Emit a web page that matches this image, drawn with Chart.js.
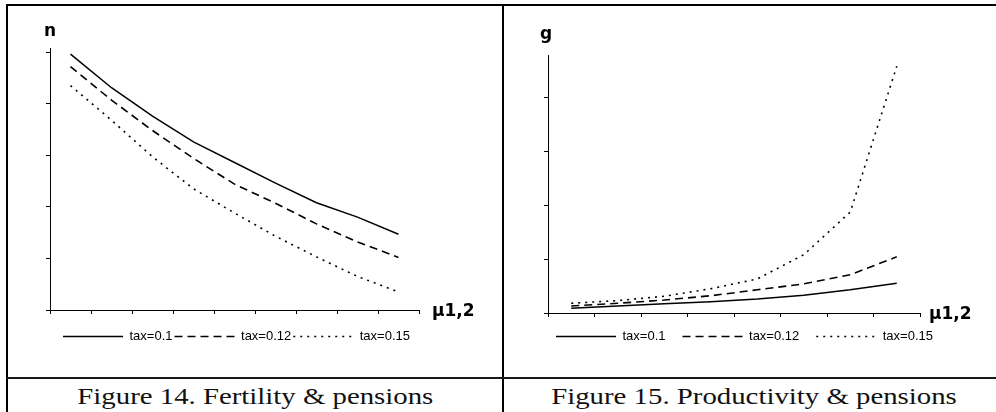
<!DOCTYPE html>
<html>
<head>
<meta charset="utf-8">
<script src="https://cdn.jsdelivr.net/npm/chart.js@4/dist/chart.umd.min.js"></script>
<style>
  html, body { margin: 0; padding: 0; background: #fff; overflow: hidden; }
  #page { position: relative; width: 996px; height: 412px; }
  .rule { position: absolute; background: #000; }
  .cap { position: absolute; top: 384px; font-family: 'Liberation Serif', 'Times New Roman', serif;
         font-size: 24px; line-height: 24px; white-space: nowrap; text-align: center; color: #111; }
  .cap span { display: inline-block; transform: scaleX(1.2); transform-origin: center; }
  .lbl { position: absolute; font: bold 17px 'DejaVu Sans', Verdana, sans-serif; line-height: 17px;
         color: #000; white-space: nowrap; }
  .plot { position: absolute; top: 0; height: 360px; }
</style>
</head>
<body>
<div id="page">
  <div class="rule" style="left:6px;top:4px;width:990px;height:2px"></div>
  <div class="rule" style="left:6px;top:4px;width:2px;height:408px"></div>
  <div class="rule" style="left:502px;top:4px;width:2px;height:408px"></div>
  <div class="rule" style="left:6px;top:377px;width:990px;height:2px;background:#1a1a1a"></div>

  <div class="plot" style="left:0;width:500px"><canvas id="fertility"></canvas></div>
  <div class="plot" style="left:500px;width:496px"><canvas id="productivity"></canvas></div>

  <div class="lbl" style="left:44px;top:22px">n</div>
  <div class="lbl" style="left:432px;top:302px">μ1,2</div>
  <div class="lbl" style="left:540px;top:25px">g</div>
  <div class="lbl" style="left:929px;top:305px">μ1,2</div>

  <div class="cap" style="left:8px;width:494px"><span>Figure 14. Fertility &amp; pensions</span></div>
  <div class="cap" style="left:508px;width:492px"><span>Figure 15. Productivity &amp; pensions</span></div>
</div>

<script>
// Pension contribution rates shown as the three series
const seriesLabels = ['tax=0.1', 'tax=0.12', 'tax=0.15'];

// Figure 14: fertility n against μ1,2 (nine steps)
const fertilitySteps = ['1', '2', '3', '4', '5', '6', '7', '8', '9'];
const fertilityTax10 = [4.96, 4.31, 3.76, 3.26, 2.86, 2.46, 2.08, 1.80, 1.47];
const fertilityTax12 = [4.72, 4.07, 3.48, 2.94, 2.44, 2.07, 1.67, 1.32, 1.02];
const fertilityTax15 = [4.35, 3.68, 2.97, 2.35, 1.88, 1.43, 1.03, 0.65, 0.35];

// Figure 15: productivity growth g against μ1,2 (eight steps)
const productivitySteps = ['1', '2', '3', '4', '5', '6', '7', '8'];
const productivityTax10 = [0.09, 0.13, 0.17, 0.21, 0.26, 0.33, 0.43, 0.55];
const productivityTax12 = [0.13, 0.18, 0.24, 0.32, 0.43, 0.54, 0.71, 1.04];
const productivityTax15 = [0.18, 0.23, 0.31, 0.45, 0.63, 1.08, 1.87, 4.57];

const lineStyles = [
  { borderDash: [], borderWidth: 1.5 },
  { borderDash: [8, 5], borderWidth: 1.6 },
  { borderDash: [2, 5], borderWidth: 1.6 }
];

function makeDatasets(valueSets) {
  return valueSets.map((values, i) => ({
    label: seriesLabels[i],
    data: values,
    borderColor: '#000',
    backgroundColor: '#000',
    borderDash: lineStyles[i].borderDash,
    borderWidth: lineStyles[i].borderWidth,
    pointRadius: 0,
    tension: 0,
    fill: false
  }));
}

// Legend entries take dash and width from the dataset line itself
function lineLegendLabels(chart) {
  const items = Chart.defaults.plugins.legend.labels.generateLabels(chart);
  items.forEach(item => {
    const ds = chart.data.datasets[item.datasetIndex];
    item.lineDash = ds.borderDash;
    item.lineWidth = ds.borderWidth;
    item.strokeStyle = ds.borderColor;
  });
  return items;
}

function buildChart(canvasId, steps, valueSets, cfg) {
  return new Chart(document.getElementById(canvasId), {
    type: 'line',
    data: { labels: steps, datasets: makeDatasets(valueSets) },
    options: {
      responsive: true,
      maintainAspectRatio: false,
      animation: false,
      devicePixelRatio: 1,
      layout: { padding: cfg.padding },
      plugins: {
        tooltip: { enabled: false },
        legend: {
          position: 'bottom',
          labels: {
            usePointStyle: true,
            pointStyle: 'line',
            pointStyleWidth: 60,
            padding: cfg.legendGap,
            color: '#000',
            font: { family: "'Liberation Sans', Arial, sans-serif", size: 13 },
            generateLabels: lineLegendLabels
          }
        }
      },
      scales: {
        x: {
          type: 'category',
          offset: true,
          grid: { offset: true, drawOnChartArea: false, color: '#000', tickLength: 4 },
          border: { display: true, color: '#000', width: 1 },
          ticks: { display: false },
          afterFit: s => { s.height = cfg.xAxisHeight; }
        },
        y: {
          type: 'linear',
          min: 0,
          max: cfg.yMax,
          grid: { drawOnChartArea: false, color: '#000', tickLength: 4 },
          border: { display: true, color: '#000', width: 1 },
          ticks: { display: false, stepSize: 1, includeBounds: false },
          afterFit: s => { s.width = cfg.yAxisWidth; }
        },
        yGutter: {
          type: 'linear',
          position: 'right',
          display: true,
          grid: { display: false, drawTicks: false },
          border: { display: false },
          ticks: { display: false },
          afterFit: s => { s.width = cfg.rightGutter; }
        }
      }
    }
  });
}

buildChart('fertility', fertilitySteps,
  [fertilityTax10, fertilityTax12, fertilityTax15],
  { padding: { left: 46, top: 48, right: 73, bottom: 7 }, legendGap: 2, xAxisHeight: 18,
    yMax: 5.08, yAxisWidth: 4, rightGutter: 8 });

buildChart('productivity', productivitySteps,
  [productivityTax10, productivityTax12, productivityTax15],
  { padding: { left: 38, top: 55, right: 45, bottom: 7 }, legendGap: 17, xAxisHeight: 0,
    yMax: 4.78, yAxisWidth: 10, rightGutter: 31 });
</script>
</body>
</html>
